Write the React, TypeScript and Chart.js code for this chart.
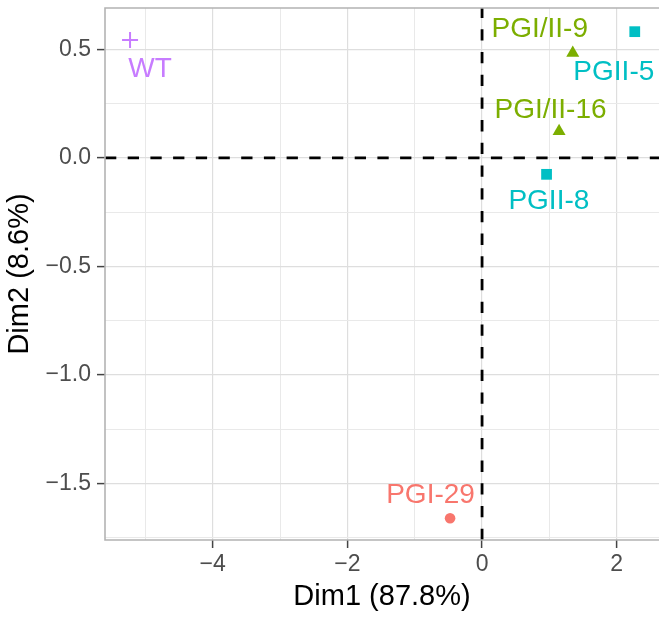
import { useEffect, useRef } from 'react';
import { Chart, registerables } from 'chart.js';

Chart.register(...registerables);

// ---- data ----
const sampleNames = ['PGI-29', 'PGI/II-9', 'PGI/II-16', 'PGII-5', 'PGII-8', 'WT'];
const sampleGroups = ['PGI', 'PGI/II', 'PGI/II', 'PGII', 'PGII', 'WT'];
const dim1 = [-0.475, 1.347, 1.144, 2.268, 0.958, -5.228];
const dim2 = [-1.66, 0.483, 0.122, 0.581, -0.076, 0.543];
const labelDim1 = [-0.765, 0.857, 1.017, 1.957, 0.992, -4.931];
const labelDim2 = [-1.545, 0.601, 0.228, 0.405, -0.19, 0.417];

const groupNames = ['PGI', 'PGI/II', 'PGII', 'WT'];
const groupColors = ['#F8766D', '#7CAE00', '#00BFC4', '#C77CFF'];
const groupShapes = ['circle', 'triangle', 'rect', 'cross'];

const xGridValues = [-5, -4, -3, -2, -1, 0, 1, 2];
const xTickValues = [-4, -2, 0, 2];
const xTickLabels = ['−4', '−2', '0', '2'];
const yGridValues = [-1.75, -1.5, -1.25, -1, -0.75, -0.5, -0.25, 0, 0.25, 0.5];
const yTickValues = [-1.5, -1, -0.5, 0, 0.5];
const yTickLabels = ['−1.5', '−1.0', '−0.5', '0.0', '0.5'];
const xRange = [-5.6, 2.628];
const yRange = [-1.76, 0.69];
const xTitle = 'Dim1 (87.8%)';
const yTitle = 'Dim2 (8.6%)';

const FONT = "'Liberation Sans', Arial, Helvetica, sans-serif";
const LABEL_SIZE = 28;
const shapeRadius: Record<string, number> = { circle: 5.3, triangle: 7.5, rect: 7.6, cross: 8 };

const isMajor = (vals: number[], v: number) => vals.some((t) => Math.abs(t - v) < 1e-9);

const zeroPadding = (s: any) => {
  s.paddingTop = 0;
  s.paddingBottom = 0;
  s.paddingLeft = 0;
  s.paddingRight = 0;
};

const overlayPlugin = {
  id: 'overlay',
  beforeDatasetsDraw(chart: any) {
    const { ctx, chartArea: a, scales } = chart;
    const x0 = scales.x.getPixelForValue(0);
    const y0 = scales.y.getPixelForValue(0);
    ctx.save();
    ctx.strokeStyle = '#000';
    ctx.lineWidth = 2.8;
    ctx.setLineDash([11.3, 11.4]);
    ctx.beginPath();
    ctx.moveTo(a.left, y0);
    ctx.lineTo(a.right, y0);
    ctx.stroke();
    ctx.beginPath();
    ctx.moveTo(x0, a.bottom);
    ctx.lineTo(x0, a.top);
    ctx.stroke();
    ctx.restore();
  },
  afterDatasetsDraw(chart: any) {
    const { ctx, chartArea: a, scales } = chart;
    ctx.save();
    ctx.strokeStyle = '#b3b3b3';
    ctx.lineWidth = 1.6;
    ctx.beginPath();
    ctx.moveTo(a.right + 2, a.top);
    ctx.lineTo(a.left, a.top);
    ctx.lineTo(a.left, a.bottom);
    ctx.lineTo(a.right + 2, a.bottom);
    ctx.stroke();
    ctx.font = `${LABEL_SIZE}px ${FONT}`;
    ctx.textAlign = 'center';
    ctx.textBaseline = 'alphabetic';
    sampleNames.forEach((name, i) => {
      const g = groupNames.indexOf(sampleGroups[i]);
      ctx.fillStyle = groupColors[g];
      ctx.fillText(
        name,
        scales.x.getPixelForValue(labelDim1[i]),
        scales.y.getPixelForValue(labelDim2[i]) + LABEL_SIZE * 0.358
      );
    });
    ctx.restore();
  },
};

export default function App() {
  const ref = useRef<HTMLCanvasElement>(null);
  useEffect(() => {
    document.body.style.margin = '0';
    const canvas = ref.current!;
    const datasets = groupNames.map((g, gi) => {
      const idx = sampleGroups.map((s, i) => (s === g ? i : -1)).filter((i) => i >= 0);
      const shape = groupShapes[gi];
      return {
        label: g,
        data: idx.map((i) => ({ x: dim1[i], y: dim2[i] })),
        pointStyle: shape,
        pointRadius: shapeRadius[shape],
        pointHoverRadius: shapeRadius[shape],
        backgroundColor: groupColors[gi],
        borderColor: groupColors[gi],
        borderWidth: shape === 'cross' ? 2 : 0,
      };
    });
    const chart = new Chart(canvas, {
      type: 'scatter',
      data: { datasets } as any,
      plugins: [overlayPlugin],
      options: {
        animation: false,
        responsive: false,
        devicePixelRatio: 1,
        layout: { autoPadding: false, padding: { top: 8, left: 0, right: 0, bottom: 0 } },
        plugins: { legend: { display: false }, tooltip: { enabled: false } },
        scales: {
          x: {
            type: 'linear',
            min: xRange[0],
            max: xRange[1],
            afterBuildTicks: (s: any) => {
              s.ticks = xGridValues.map((v) => ({ value: v }));
            },
            afterFit: (s: any) => {
              s.height = 79;
              zeroPadding(s);
            },
            border: { display: false },
            grid: {
              color: (c: any) => (isMajor(xTickValues, c.tick?.value) ? '#dedede' : '#e9e9e9'),
              lineWidth: (c: any) => (isMajor(xTickValues, c.tick?.value) ? 1.2 : 1),
              drawTicks: true,
              tickLength: 8,
              tickColor: (c: any) => (isMajor(xTickValues, c.tick?.value) ? '#444' : 'rgba(0,0,0,0)'),
              tickWidth: 1.5,
            },
            ticks: {
              autoSkip: false,
              maxRotation: 0,
              padding: 3,
              color: '#4d4d4d',
              font: { family: FONT, size: 23 },
              callback: (v: any) => {
                const k = xTickValues.findIndex((t) => Math.abs(t - v) < 1e-9);
                return k >= 0 ? xTickLabels[k] : '';
              },
            },
            title: {
              display: true,
              text: xTitle,
              color: '#000',
              font: { family: FONT, size: 29 },
              padding: { top: 0, bottom: 5 },
            },
          },
          y: {
            type: 'linear',
            min: yRange[0],
            max: yRange[1],
            afterBuildTicks: (s: any) => {
              s.ticks = yGridValues.map((v) => ({ value: v }));
            },
            afterFit: (s: any) => {
              s.width = 105;
              zeroPadding(s);
            },
            border: { display: false },
            grid: {
              color: (c: any) => (isMajor(yTickValues, c.tick?.value) ? '#dedede' : '#e9e9e9'),
              lineWidth: (c: any) => (isMajor(yTickValues, c.tick?.value) ? 1.2 : 1),
              drawTicks: true,
              tickLength: 8,
              tickColor: (c: any) => (isMajor(yTickValues, c.tick?.value) ? '#444' : 'rgba(0,0,0,0)'),
              tickWidth: 1.5,
            },
            ticks: {
              autoSkip: false,
              padding: 6,
              color: '#4d4d4d',
              font: { family: FONT, size: 23 },
              callback: (v: any) => {
                const k = yTickValues.findIndex((t) => Math.abs(t - v) < 1e-9);
                return k >= 0 ? yTickLabels[k] : '';
              },
            },
            title: {
              display: true,
              text: yTitle,
              color: '#000',
              font: { family: FONT, size: 29 },
              padding: { top: 3, bottom: 0 },
            },
          },
        },
      } as any,
    });
    return () => chart.destroy();
  }, []);
  return (
    <div style={{ position: 'absolute', left: 0, top: 0, width: 659, height: 619 }}>
      <canvas ref={ref} width={659} height={619} style={{ display: 'block', width: 659, height: 619 }} />
    </div>
  );
}
